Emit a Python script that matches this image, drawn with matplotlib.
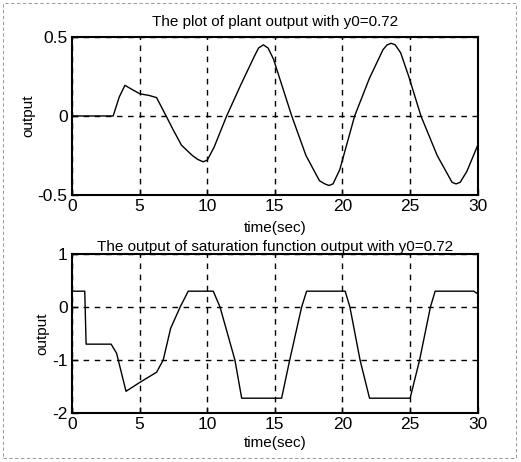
import numpy as np
import matplotlib
matplotlib.use("Agg")
import matplotlib.pyplot as plt
from matplotlib.patches import Rectangle

plt.rcParams['font.family'] = ['Liberation Sans Narrow', 'Liberation Sans', 'DejaVu Sans']

# plant output
t_plant = [0, 1, 2, 3.05, 3.5, 3.92, 4.5, 5.03, 5.7, 6.26, 7.0, 7.5, 8.1, 8.9, 9.3, 9.7, 10.0,
           10.5, 11.44, 12.5, 13.5, 13.8, 14.15, 14.5, 14.9, 15.5, 16.25, 17.3, 18.3, 18.7,
           19.0, 19.3, 19.8, 20.9, 22.0, 23.0, 23.3, 23.6, 23.9, 24.3, 24.9, 25.8, 27.0,
           28.1, 28.4, 28.7, 29.2, 30]
y_plant = [0, 0, 0, 0, 0.12, 0.194, 0.165, 0.14, 0.13, 0.116, -0.006, -0.09, -0.185, -0.25,
           -0.275, -0.29, -0.28, -0.2, 0, 0.2, 0.38, 0.43, 0.45, 0.43, 0.36, 0.2, 0, -0.25,
           -0.41, -0.43, -0.44, -0.43, -0.34, 0, 0.24, 0.42, 0.45, 0.46, 0.45, 0.40, 0.25, 0,
           -0.25, -0.42, -0.43, -0.42, -0.35, -0.185]

# saturation function output
t_sat = [0, 0.95, 1.05, 2.9, 3.3, 4.0, 5.03, 6.26, 6.75, 7.3, 8.0, 8.6, 10.45, 10.95, 12.05,
         12.55, 15.5, 16.1, 16.98, 17.35, 20.2, 20.55, 21.3, 22.0, 25.0, 25.7, 26.5, 26.85,
         29.7, 30]
y_sat = [0.3, 0.3, -0.7, -0.7, -0.87, -1.59, -1.42, -1.23, -1.0, -0.4, 0, 0.3, 0.3, 0, -1,
         -1.72, -1.72, -1, 0, 0.3, 0.3, 0, -1, -1.72, -1.72, -1, 0, 0.3,
         0.3, 0.25]

x_ticks = [0, 5, 10, 15, 20, 25, 30]

fig = plt.figure(figsize=(5.21, 4.62), dpi=100)

# faint dashed frame from the scan
fig.patches.append(Rectangle((0.006, 0.008), 0.985, 0.985, transform=fig.transFigure,
                             fill=False, ls=(0, (4, 3)), lw=0.6, ec='#888888'))


def style(ax, ylim, yticks, ylabels, xpad):
    ax.set_xlim(0, 30)
    ax.set_ylim(*ylim)
    ax.set_xticks(x_ticks)
    ax.set_yticks(yticks)
    ax.set_yticklabels(ylabels)
    ax.tick_params(direction='in', length=4, labelsize=12.5, pad=3, width=1)
    ax.grid(True, color='black', ls=(0, (4, 4)), lw=1.0)
    for s in ax.spines.values():
        s.set_linewidth(1.5)
    ax.set_xlabel('time(sec)', fontsize=11, labelpad=xpad)
    ax.set_ylabel('output', fontsize=11, labelpad=2)


ax1 = fig.add_axes([0.138, 0.578, 0.779, 0.342])
ax1.plot(t_plant, y_plant, color='black', lw=1.0)
style(ax1, (-0.5, 0.5), [-0.5, 0, 0.5], ['-0.5', '0', '0.5'], 5)
ax1.set_title('The plot of plant output with y0=0.72', fontsize=11, pad=8)

ax2 = fig.add_axes([0.138, 0.106, 0.779, 0.344])
ax2.plot(t_sat, y_sat, color='black', lw=1.0)
style(ax2, (-2, 1), [-2, -1, 0, 1], ['-2', '-1', '0', '1'], 3)
ax2.set_title('The output of saturation function output with y0=0.72', fontsize=11, pad=1)

fig.savefig('out.png', dpi=100)
